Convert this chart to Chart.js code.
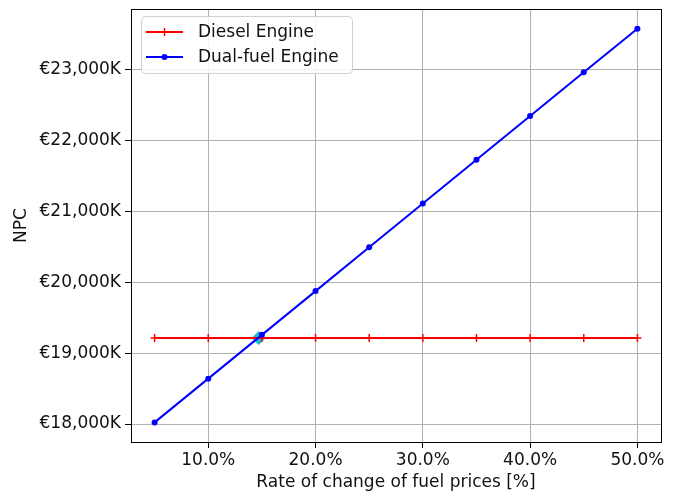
<!DOCTYPE html>
<html>
<head>
<meta charset="utf-8">
<script src="https://cdn.jsdelivr.net/npm/chart.js@4/dist/chart.umd.min.js"></script>
<style>
  html, body { margin: 0; padding: 0; background: #fff; }
  canvas { display: block; }
</style>
</head>
<body>
<canvas id="npc" width="675" height="493"></canvas>
<script>
// Rate of change of fuel prices (%)
const fuelRates = [5, 10, 15, 20, 25, 30, 35, 40, 45, 50];
// Net present cost, thousands of euros
const dieselNPC = [19214, 19214, 19214, 19214, 19214, 19214, 19214, 19214, 19214, 19214];
const dualFuelNPC = [18023, 18641, 19259, 19877, 20495, 21113, 21731, 22349, 22967, 23583];
// Break-even point between the two engines
const breakEven = [{ x: 14.7, y: 19214 }];
// Axis ticks
const xTicks = [10, 20, 30, 40, 50];
const yTicks = [18000, 19000, 20000, 21000, 22000, 23000];

const FONT = 'DejaVu Sans';

const toPoints = (xs, ys) => xs.map((x, i) => ({ x, y: ys[i] }));

// Frame around the plot area and an in-plot legend
const framePlugin = {
  id: 'frame',
  afterDraw(chart) {
    const { ctx, chartArea: a } = chart;
    ctx.save();
    ctx.strokeStyle = '#000';
    ctx.lineWidth = 1;
    ctx.strokeRect(Math.round(a.left) + 0.5, Math.round(a.top) + 0.5,
                   Math.round(a.right - a.left), Math.round(a.bottom - a.top));

    // legend box
    const bx = a.left + 10, by = a.top + 7, bw = 211, bh = 57;
    ctx.beginPath();
    ctx.roundRect(bx + 0.5, by + 0.5, bw, bh, 4);
    ctx.fillStyle = 'rgba(255,255,255,0.85)';
    ctx.fill();
    ctx.strokeStyle = '#d0d0d0';
    ctx.stroke();

    const items = chart.data.datasets.filter(d => d.inLegend);
    items.forEach((d, i) => {
      const cy = by + 16 + i * 25;
      const x0 = bx + 5, x1 = bx + 42, xm = (x0 + x1) / 2;
      ctx.strokeStyle = d.borderColor;
      ctx.lineWidth = 2;
      ctx.beginPath();
      ctx.moveTo(x0, cy);
      ctx.lineTo(x1, cy);
      ctx.stroke();
      if (d.pointStyle === 'cross') {
        ctx.beginPath();
        ctx.moveTo(xm, cy - 4);
        ctx.lineTo(xm, cy + 4);
        ctx.lineWidth = 1.5;
        ctx.stroke();
      } else {
        ctx.fillStyle = d.borderColor;
        ctx.beginPath();
        ctx.arc(xm, cy, 3, 0, Math.PI * 2);
        ctx.fill();
      }
      ctx.fillStyle = '#111';
      ctx.font = '17px "' + FONT + '"';
      ctx.textBaseline = 'middle';
      ctx.textAlign = 'left';
      ctx.fillText(d.label, bx + 57, cy + 1);
    });
    ctx.restore();
  }
};

new Chart(document.getElementById('npc'), {
  type: 'line',
  data: {
    datasets: [
      {
        label: 'Diesel Engine',
        inLegend: true,
        data: toPoints(fuelRates, dieselNPC),
        borderColor: '#ff0000',
        backgroundColor: '#ff0000',
        borderWidth: 2,
        pointStyle: 'cross',
        pointRadius: 4,
        pointBorderWidth: 1.5,
        pointRotation: 0,
        order: 1
      },
      {
        label: 'Dual-fuel Engine',
        inLegend: true,
        data: toPoints(fuelRates, dualFuelNPC),
        borderColor: '#0000ff',
        backgroundColor: '#0000ff',
        borderWidth: 2,
        pointStyle: 'circle',
        pointRadius: 3,
        pointBorderWidth: 0,
        order: 0
      },
      {
        label: 'Break-even',
        inLegend: false,
        type: 'scatter',
        data: breakEven,
        showLine: false,
        pointStyle: 'rectRot',
        pointRadius: 7,
        pointBorderWidth: 0,
        backgroundColor: '#17becf',
        borderColor: '#17becf',
        order: 2
      }
    ]
  },
  plugins: [framePlugin],
  options: {
    responsive: false,
    animation: false,
    devicePixelRatio: 1,
    layout: { padding: { top: 9, right: 14, left: 0, bottom: 0 } },
    plugins: {
      legend: { display: false },
      tooltip: { enabled: false }
    },
    scales: {
      x: {
        type: 'linear',
        min: 2.8,
        max: 52.2,
        afterBuildTicks: s => { s.ticks = xTicks.map(v => ({ value: v })); },
        afterFit: s => { s.height = 51; s.paddingLeft = 0; s.paddingRight = 0; },
        ticks: {
          color: '#111',
          font: { family: FONT, size: 17 },
          padding: 2,
          maxRotation: 0,
          callback: v => v.toFixed(1) + '%'
        },
        grid: { color: '#b0b0b0', lineWidth: 1, tickLength: 6, tickColor: '#000' },
        border: { display: true, color: '#000', width: 1 },
        title: {
          display: true,
          text: 'Rate of change of fuel prices [%]',
          color: '#111',
          font: { family: FONT, size: 17 },
          padding: { top: 0, bottom: 0 }
        }
      },
      y: {
        type: 'linear',
        min: 17746,
        max: 23861,
        afterBuildTicks: s => { s.ticks = yTicks.map(v => ({ value: v })); },
        afterFit: s => { s.width = 131; s.paddingTop = 0; s.paddingBottom = 0; },
        ticks: {
          color: '#111',
          font: { family: FONT, size: 17 },
          padding: 4,
          callback: v => '€' + v.toLocaleString('en-US') + 'K'
        },
        grid: { color: '#b0b0b0', lineWidth: 1, tickLength: 6, tickColor: '#000' },
        border: { display: true, color: '#000', width: 1 },
        title: {
          display: true,
          text: 'NPC',
          color: '#111',
          font: { family: FONT, size: 17 },
          padding: { top: 11, bottom: 0 }
        }
      }
    }
  }
});
</script>
</body>
</html>
